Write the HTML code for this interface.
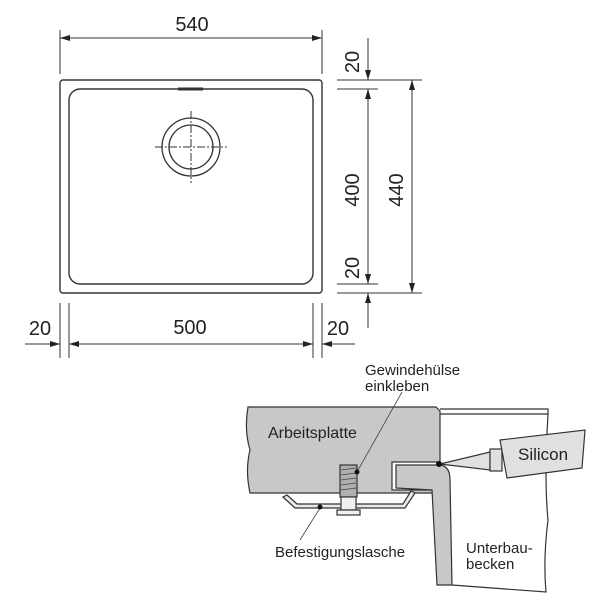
<!DOCTYPE html>
<html><head><meta charset="utf-8"><style>
html,body{margin:0;padding:0;background:#fff;}
svg{display:block;}
text{font-family:"Liberation Sans",Arial,sans-serif;fill:#222;}
</style></head><body>
<svg width="600" height="600" viewBox="0 0 600 600" xmlns="http://www.w3.org/2000/svg">
<defs>
<marker id="a" viewBox="0 0 10 6" refX="10" refY="3" markerWidth="10" markerHeight="6" orient="auto-start-reverse" markerUnits="userSpaceOnUse"><path d="M0,0 L10,3 L0,6 z" fill="#222"/></marker>
</defs>
<g stroke="#333" fill="none" stroke-width="1">
<rect x="60" y="80" width="262" height="213" rx="3" stroke-width="1.4"/>
<rect x="69" y="89" width="244" height="195" rx="11" stroke-width="1.4"/>
<line x1="178" y1="89" x2="203" y2="89" stroke-width="3"/>
<circle cx="191" cy="147" r="29" stroke-width="1.3"/>
<circle cx="191" cy="147" r="22" stroke-width="1.3"/>
<line x1="155" y1="147" x2="227" y2="147" stroke-dasharray="8,2,2,2"/>
<line x1="191" y1="111" x2="191" y2="183" stroke-dasharray="8,2,2,2"/>
<line x1="60" y1="30" x2="60" y2="74"/><line x1="322" y1="30" x2="322" y2="74"/>
<line x1="60" y1="38" x2="322" y2="38" marker-start="url(#a)" marker-end="url(#a)"/>
<line x1="337" y1="80" x2="422" y2="80"/><line x1="337" y1="89" x2="378" y2="89"/>
<line x1="337" y1="284" x2="378" y2="284"/><line x1="337" y1="293" x2="422" y2="293"/>
<line x1="368" y1="38" x2="368" y2="80" marker-end="url(#a)"/>
<line x1="368" y1="89" x2="368" y2="284" marker-start="url(#a)" marker-end="url(#a)"/>
<line x1="368" y1="293" x2="368" y2="328" marker-start="url(#a)"/>
<line x1="412" y1="80" x2="412" y2="293" marker-start="url(#a)" marker-end="url(#a)"/>
<line x1="60" y1="303" x2="60" y2="358"/><line x1="69" y1="303" x2="69" y2="358"/>
<line x1="313" y1="303" x2="313" y2="358"/><line x1="322" y1="303" x2="322" y2="358"/>
<line x1="25" y1="344" x2="60" y2="344" marker-end="url(#a)"/>
<line x1="69" y1="344" x2="313" y2="344" marker-start="url(#a)" marker-end="url(#a)"/>
<line x1="322" y1="344" x2="355" y2="344" marker-start="url(#a)"/>
</g>
<g font-size="20">
<text x="192" y="31" text-anchor="middle">540</text>
<text x="190" y="334" text-anchor="middle">500</text>
<text x="40" y="335" text-anchor="middle">20</text>
<text x="338" y="335" text-anchor="middle">20</text>
<text transform="translate(359,62) rotate(-90)" text-anchor="middle">20</text>
<text transform="translate(359,190) rotate(-90)" text-anchor="middle">400</text>
<text transform="translate(359,268) rotate(-90)" text-anchor="middle">20</text>
<text transform="translate(403,190) rotate(-90)" text-anchor="middle">440</text>
</g>
<g stroke="#333" stroke-width="1.2">
<path d="M440,409 L548,409 L548,414 L440,414" fill="#fff"/>
<path d="M548,414 Q544,480 548,520 Q543,560 546,592 L452,585" fill="none"/>
<path d="M248,407 L436,407 L440,411 L440,462 L392,462 L392,490 L440,490 L440,493 L250,493 Q245,470 250,450 Q244,430 248,407 z" fill="#c8c8c8"/>
<path d="M396,465 L440,465 Q450,466 450,480 L452,585 L437,585 L432,490 L396,488 z" fill="#c8c8c8"/>
<path d="M283,497 L295,508 L405,508 L415,493 L411,491 L403,504 L297,504 L287,495 z" fill="#e8e8e8"/>
<rect x="340" y="465" width="17" height="32" fill="#b0b0b0"/>
<rect x="341" y="497" width="15" height="13" fill="#f0f0f0"/>
<rect x="337" y="510" width="23" height="5" fill="#f0f0f0"/>
<path d="M440,464 L490,452 L490,470 z" fill="#e0e0e0"/>
<rect x="490" y="449" width="12" height="22" fill="#e0e0e0"/>
<path d="M500,440 L585,430 L582,468 L507,478 z" fill="#e0e0e0"/>
</g>
<g stroke="#444" stroke-width="0.8">
<line x1="341" y1="470" x2="356" y2="468"/><line x1="341" y1="475" x2="356" y2="473"/>
<line x1="341" y1="480" x2="356" y2="478"/><line x1="341" y1="485" x2="356" y2="483"/>
<line x1="341" y1="490" x2="356" y2="488"/>
<line x1="402" y1="392" x2="357" y2="472"/>
<line x1="320" y1="508" x2="300" y2="540"/>
</g>
<circle cx="357" cy="472" r="2.5" fill="#111"/>
<circle cx="320" cy="507" r="2.5" fill="#111"/>
<circle cx="439" cy="464" r="3" fill="#111"/>
<g font-size="15">
<text x="365" y="375">Gewindehülse</text>
<text x="365" y="391">einkleben</text>
<text x="268" y="438" font-size="16">Arbeitsplatte</text>
<text x="518" y="460" font-size="17">Silicon</text>
<text x="275" y="557">Befestigungslasche</text>
<text x="466" y="553">Unterbau-</text>
<text x="466" y="569">becken</text>
</g>
</svg>
</body></html>
